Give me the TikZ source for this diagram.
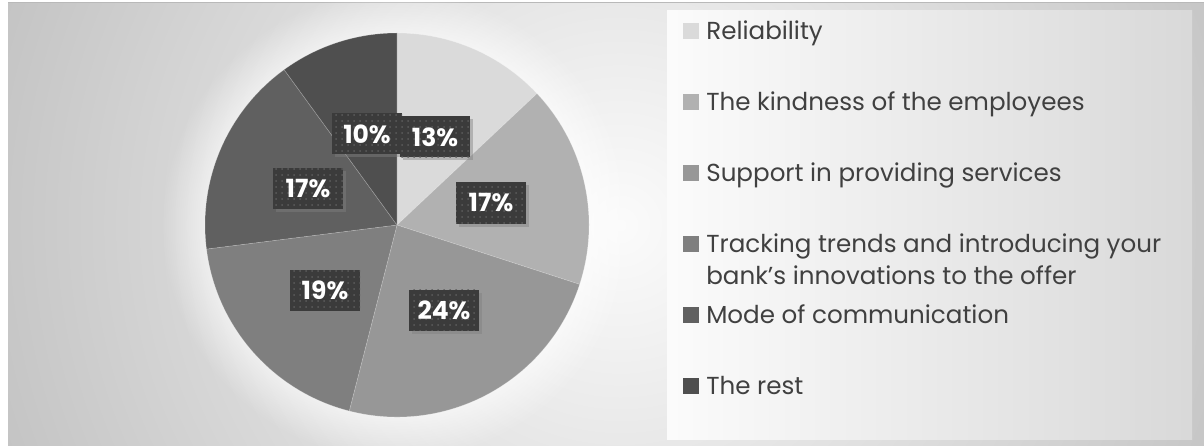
\documentclass[tikz,border=0pt]{standalone}
\usepackage{fontspec}
\setmainfont{Poppins}
\usetikzlibrary{shadows, patterns, fadings, positioning}

\definecolor{relcol}{HTML}{DADADA}
\definecolor{kindcol}{HTML}{B1B1B1}
\definecolor{suppcol}{HTML}{979797}
\definecolor{trackcol}{HTML}{7F7F7F}
\definecolor{modecol}{HTML}{606060}
\definecolor{restcol}{HTML}{4F4F4F}
\definecolor{boxcol}{HTML}{3B3B3B}
\definecolor{dotcol}{HTML}{5C5C5C}
\definecolor{legtext}{HTML}{404040}
\definecolor{bgin}{HTML}{FBFBFB}
\definecolor{bgout}{HTML}{C0C0C0}

\begin{document}
\begin{tikzpicture}[x=.5pt, y=.5pt,
  pct/.style={fill=boxcol, text=white, font=\bfseries\fontsize{12.5}{12.5}\selectfont,
    minimum width=35pt, minimum height=20.5pt, inner sep=0pt,
    drop shadow={shadow xshift=1.5pt, shadow yshift=-1.5pt, opacity=.45},
    postaction={pattern=dots, pattern color=dotcol}},
  key/.style={fill=#1, minimum size=8pt, inner sep=0pt},
  keytext/.style={text=legtext, anchor=base west, inner sep=0pt,
    font=\fontsize{12.3}{16}\selectfont}]
\useasboundingbox (0,0) rectangle (1204,445);
% background
\begin{scope}
\clip (8,0) rectangle (1204,441);
\fill[inner color=bgin, outer color=bgout] (620,220) circle (700);
\end{scope}
\draw[line width=.8pt, gray!55] (8,442.5) -- (1204,442.5);
\fill[white, opacity=.6, path fading=circle with fuzzy edge 20 percent] (397,220) circle (235);
%
% pie
\foreach \a/\b/\c in {90/43.2/relcol, 43.2/-18/kindcol, -18/-104.4/suppcol,
    -104.4/-172.8/trackcol, -172.8/-234/modecol, -234/-270/restcol}
  \filldraw[fill=\c, draw=white, draw opacity=.25, line width=.3pt]
    (397,220) -- ++(\a:192) arc[start angle=\a, end angle=\b, radius=192] -- cycle;
%
\node[pct] (p10) at (367,311) {10\%};
\node[pct] (p13) at (435,308) {13\%};
\node[pct] (p17a) at (491,242) {17\%};
\node[pct] (p24) at (444,135) {24\%};
\node[pct] (p19) at (325,155) {19\%};
\node[pct] (p17b) at (308,256) {17\%};
%
% legend
\fill[left color=white!97!gray, right color=gray!30] (667,6) rectangle (1192,434);
\node[key=relcol] (krel) at (690.5,414) {};
\node[key=kindcol, below=27.1pt of krel] (kkind) {};
\node[key=suppcol, below=27.1pt of kkind] (ksupp) {};
\node[key=trackcol, below=27.1pt of ksupp] (ktrack) {};
\node[key=modecol, below=27.1pt of ktrack] (kmode) {};
\node[key=restcol, below=27.1pt of kmode] (krest) {};
\node[keytext] (trel) at ([xshift=3.5pt]krel.south east) {Reliability};
\node[keytext] (tkind) at ([xshift=3.5pt]kkind.south east) {The kindness of the employees};
\node[keytext] (tsupp) at ([xshift=3.5pt]ksupp.south east) {Support in providing services};
\node[keytext] (ttrack) at ([xshift=3.5pt]ktrack.south east)
  {\begin{tabular}[t]{@{}l@{}}Tracking trends and introducing your\\bank's innovations to the offer\end{tabular}};
\node[keytext] (tmode) at ([xshift=3.5pt]kmode.south east) {Mode of communication};
\node[keytext] (trest) at ([xshift=3.5pt]krest.south east) {The rest};
\end{tikzpicture}
\end{document}
